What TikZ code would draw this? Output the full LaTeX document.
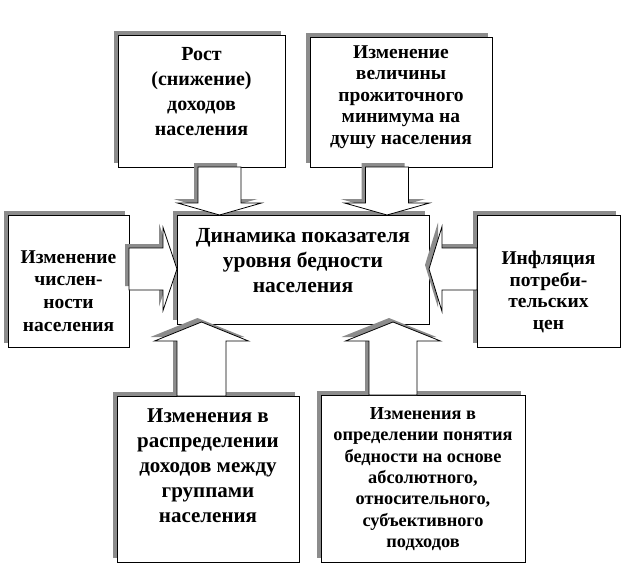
\documentclass[tikz,border=0pt]{standalone}
\usepackage{fontspec}
\setmainfont{Liberation Serif}
\usetikzlibrary{calc,shadows}
\tikzset{
  box/.style={draw=black, line width=0.9pt, fill=white, inner sep=0pt,
    drop shadow={fill=black!45, opacity=1, shadow xshift=-4pt, shadow yshift=4pt}},
  txt/.style={align=center, inner sep=0pt, font=\bfseries},
  arrowbody/.style={draw=black, line width=0.8pt, fill=white, line join=miter},
  arrowshadow/.style={fill=black!45, draw=none, transform canvas={xshift=-4pt, yshift=4pt}}
}
% vertical block arrow: #1 style, #2 base coord, #3 tip coord, #4 shaft half width, #5 head half width, #6 head length (signed, + for downward)
\newcommand\varrowpath[6]{%
  \path[#1] ($(#2)+(-#4,0)$) -- ($(#3)+(-#4,-#6)$) -- ($(#3)+(-#5,-#6)$) -- (#3)
    -- ($(#3)+(#5,-#6)$) -- ($(#3)+(#4,-#6)$) -- ($(#2)+(#4,0)$) -- cycle;}
% horizontal block arrow: head length signed, + for rightward
\newcommand\harrowpath[6]{%
  \path[#1] ($(#2)+(0,-#4)$) -- ($(#3)+(-#6,-#4)$) -- ($(#3)+(-#6,-#5)$) -- (#3)
    -- ($(#3)+(-#6,#5)$) -- ($(#3)+(-#6,#4)$) -- ($(#2)+(0,#4)$) -- cycle;}
\newcommand\blockV[5]{\varrowpath{arrowshadow}{#1}{#2}{#3}{#4}{#5}\varrowpath{arrowbody}{#1}{#2}{#3}{#4}{#5}}
\newcommand\blockH[5]{\harrowpath{arrowshadow}{#1}{#2}{#3}{#4}{#5}\harrowpath{arrowbody}{#1}{#2}{#3}{#4}{#5}}
\begin{document}
\begin{tikzpicture}[x=1pt, y=-1pt]
\useasboundingbox (0,0) rectangle (634,567);
% boxes
\node[box, minimum width=167pt, minimum height=132pt] (b1) at (201.5,101) {};
\node[box, minimum width=182pt, minimum height=130pt] (b2) at (401,102) {};
\node[box, minimum width=252pt, minimum height=109pt] (c) at (303,269.5) {};
\node[box, minimum width=121pt, minimum height=132pt] (l) at (68.5,281) {};
\node[box, minimum width=143pt, minimum height=132pt] (r) at (548.5,281) {};
\node[box, minimum width=182pt, minimum height=166pt] (bl) at (208,479) {};
\node[box, minimum width=204pt, minimum height=167pt] (br) at (423,478.5) {};
% arrow end points
\coordinate (a1s) at (219.5,167);  \coordinate (a1e) at (219.5,215);
\coordinate (a2s) at (387,167);    \coordinate (a2e) at (387,215);
\coordinate (a3s) at (129,269);    \coordinate (a3e) at (177,269);
\coordinate (a4s) at (477,269);    \coordinate (a4e) at (429,269);
\coordinate (a5s) at (201.5,396);  \coordinate (a5e) at (201.5,322);
\coordinate (a6s) at (393,395);    \coordinate (a6e) at (393,322);
\blockV{a1s}{a1e}{21.5}{42}{12}
\blockV{a2s}{a2e}{21.5}{42.5}{12}
\blockH{a3s}{a3e}{21}{41.5}{14}
\blockH{a4s}{a4e}{21}{42.5}{-13}
\blockV{a5s}{a5e}{24.5}{47}{-19}
\blockV{a6s}{a6e}{24}{47.5}{-19}
% texts
\node[txt, font=\bfseries\fontsize{20}{25}\selectfont] (t1) at (201.5,92)
  {Рост\\(снижение)\\доходов\\населения};
\node[txt, font=\bfseries\fontsize{19.5}{21.5}\selectfont] (t2) at (401,97)
  {Изменение\\величины\\прожиточного\\минимума на\\душу населения};
\node[txt, font=\bfseries\fontsize{21.5}{25}\selectfont] (tc) at (303,261)
  {Динамика показателя\\уровня бедности\\населения};
\node[txt, font=\bfseries\fontsize{19.5}{22.7}\selectfont] (tl) at (68.5,291)
  {Изменение\\числен-\\ности\\населения};
\node[txt, font=\bfseries\fontsize{19.5}{21.5}\selectfont] (tr) at (548.5,292)
  {Инфляция\\потреби-\\тельских\\цен};
\node[txt, font=\bfseries\fontsize{21}{25}\selectfont] (tbl) at (208,466)
  {Изменения в\\распределении\\доходов между\\группами\\населения};
\node[txt, font=\bfseries\fontsize{18.3}{21.3}\selectfont] (tbr) at (423,479)
  {Изменения в\\определении понятия\\бедности на основе\\абсолютного,\\относительного,\\субъективного\\подходов};
\end{tikzpicture}
\end{document}
